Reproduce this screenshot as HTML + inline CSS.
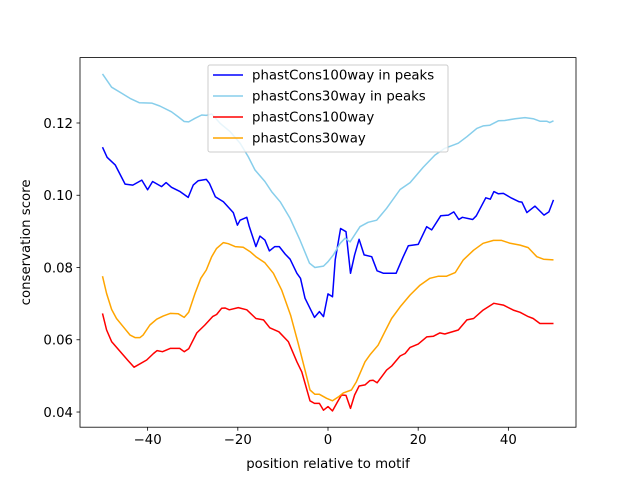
<!DOCTYPE html>
<html><head><meta charset="utf-8"><style>
body{margin:0;background:#fff;}
svg{display:block;font-family:"DejaVu Sans","Liberation Sans",sans-serif;}
</style></head><body>
<svg id="chart" width="640" height="480"></svg>
<script>
const xTicks=[-40,-20,0,20,40];
const yTicks=[0.04,0.06,0.08,0.10,0.12];
const yTickLabels=["0.04","0.06","0.08","0.10","0.12"];
const seriesNames=["phastCons100way in peaks","phastCons30way in peaks","phastCons100way","phastCons30way"];
const seriesColors=["#0000ff","#87ceeb","#ff0000","#ffa500"];
const blueX=[-50,-49,-47.2,-45,-43.3,-41.3,-40,-38.9,-36.9,-35.9,-34.7,-32.8,-31,-29.9,-28.8,-27,-26.3,-25,-23.2,-21,-20.1,-19.5,-18,-17.5,-16,-15.1,-14,-13,-11.8,-10.8,-9.5,-8.4,-6.9,-6.1,-5.1,-4,-3,-1.9,-1,0,0.4,1,1.6,2.8,4,5,5.9,6.9,8,9.7,10.9,12.3,15.1,16.6,17.8,20,21.9,23,25,26.7,27.9,29,29.8,32.1,32.9,35,36,36.8,37.8,38.9,40.7,42.4,43,44.1,45.9,47.9,49,50];
const blueY=[0.1133,0.1105,0.1084,0.1031,0.1028,0.1042,0.1015,0.1038,0.1024,0.1035,0.1022,0.101,0.0994,0.1028,0.104,0.1044,0.1033,0.0996,0.0982,0.0952,0.0917,0.0931,0.0939,0.0915,0.0858,0.0887,0.0876,0.0846,0.0858,0.0858,0.0837,0.0823,0.0784,0.077,0.0715,0.0687,0.0662,0.0678,0.0664,0.0727,0.0724,0.0719,0.0821,0.0908,0.0899,0.0784,0.0835,0.0878,0.0835,0.083,0.0791,0.0784,0.0784,0.0828,0.086,0.0864,0.0913,0.0904,0.0943,0.0945,0.0954,0.0933,0.0939,0.0933,0.0943,0.0993,0.0989,0.101,0.1004,0.1005,0.0992,0.0982,0.0981,0.0952,0.097,0.0945,0.0954,0.0987];
const skyX=[-50,-48,-45.7,-43.9,-41.8,-39.1,-37.3,-34.7,-33.2,-31.9,-30.9,-29.5,-28,-27,-25.8,-23.9,-21.7,-19.5,-17.7,-16.2,-14,-12.5,-10.6,-8.4,-6.2,-4.1,-2.9,-1,0,1.2,2.7,3.8,4.9,7.1,8.9,10.8,13,16,18.2,21.1,23.7,25.9,28.9,30.8,33,34.4,35.9,37.8,39.2,41.5,43.7,45.5,47,48.5,49.2,50];
const skyY=[0.1336,0.1299,0.1282,0.1268,0.1256,0.1255,0.1247,0.1231,0.1217,0.1204,0.1203,0.1213,0.1222,0.1221,0.1225,0.1199,0.1176,0.1144,0.1107,0.107,0.1038,0.101,0.0982,0.0936,0.0876,0.0812,0.08,0.0804,0.0816,0.0835,0.0867,0.0881,0.0871,0.0913,0.0925,0.0931,0.0964,0.1016,0.1035,0.1077,0.1111,0.113,0.1144,0.1162,0.1185,0.1192,0.1194,0.1206,0.1207,0.1212,0.1215,0.1212,0.1205,0.1205,0.1201,0.1206];
const redX=[-50,-49.1,-48,-45.7,-44.3,-43,-40.2,-38.7,-37.9,-36.7,-35,-32.9,-31.9,-30.9,-29.1,-27.3,-25.6,-24.7,-23.6,-22.8,-21.9,-19.9,-18,-16,-14.3,-12.9,-10.9,-8.8,-6.9,-5.8,-4,-3,-1.9,-1,0,1,2.1,3,4,5,5.9,6.9,8.2,9.3,10,10.9,13,14.1,16,17.1,18.2,20,21.9,23.4,24.8,25.9,28.9,30.8,32.3,34.4,36.8,38.9,41.1,42.6,44.4,45.5,47,50];
const redY=[0.0673,0.0627,0.0595,0.0562,0.0542,0.0524,0.0544,0.0562,0.057,0.0567,0.0576,0.0576,0.0567,0.0575,0.0619,0.0641,0.0664,0.067,0.0687,0.0688,0.0683,0.0689,0.0683,0.0659,0.0655,0.0633,0.0622,0.0595,0.0539,0.0511,0.0431,0.0424,0.0424,0.0405,0.0415,0.0403,0.0428,0.0447,0.0446,0.041,0.0447,0.0472,0.0475,0.0487,0.0488,0.0481,0.0516,0.0527,0.0555,0.0562,0.0579,0.0588,0.0608,0.061,0.0619,0.0616,0.0627,0.0655,0.0659,0.0682,0.0701,0.0696,0.0682,0.0676,0.0664,0.0659,0.0645,0.0645];
const orangeX=[-50,-49.1,-48,-46.9,-45.4,-43.9,-42.8,-41.7,-41,-39.5,-38,-36.5,-35,-33.2,-31.9,-30.9,-29.5,-28.2,-27,-25.8,-24.7,-23.2,-22.1,-20.6,-18.8,-17.3,-16,-14,-12.1,-10.3,-8.3,-6.6,-5.1,-4,-2.9,-1.9,-0.3,1,2.3,3.4,5.2,6.3,8.2,9.3,11.1,12.6,14.1,16,18.2,20.4,22.6,24.5,26.3,28.2,30,32.3,34.4,36.7,38.5,40.4,42.6,44.4,46.3,47.8,50];
const orangeY=[0.0776,0.0728,0.0684,0.0659,0.0636,0.0613,0.0606,0.0606,0.0613,0.0641,0.0657,0.0666,0.0673,0.0672,0.0662,0.0676,0.0728,0.077,0.0793,0.083,0.0853,0.0869,0.0866,0.0858,0.0856,0.0844,0.083,0.0813,0.0784,0.0738,0.0668,0.059,0.0516,0.0461,0.0449,0.0449,0.0438,0.0431,0.0442,0.0453,0.0461,0.0484,0.0539,0.0558,0.0585,0.0622,0.0659,0.0691,0.0724,0.0751,0.077,0.0776,0.0776,0.0786,0.0821,0.0848,0.0867,0.0875,0.0875,0.0867,0.0862,0.0855,0.083,0.0823,0.0821];

const NS="http://www.w3.org/2000/svg";
const svg=document.getElementById('chart');
const L=80,R=576,T=57.6,B=427.2;
const xMin=-55,xMax=55,yMin=0.0358,yMax=0.1381;
function sx(v){return L+(v-xMin)/(xMax-xMin)*(R-L);}
function sy(v){return B-(v-yMin)/(yMax-yMin)*(B-T);}
function mk(tag,attrs){const e=document.createElementNS(NS,tag);for(const k in attrs)e.setAttribute(k,attrs[k]);svg.appendChild(e);return e;}

const frame=mk('rect',{x:L,y:T,width:R-L,height:B-T,fill:'none',stroke:'#000','stroke-width':0.8});



xTicks.forEach(v=>{
  const x=sx(v);
  const t=mk('line',{x1:x,x2:x,y1:B,y2:B+3.5,stroke:'#000','stroke-width':0.8});
  
  
  const lb=mk('text',{x:x,y:B+17,'text-anchor':'middle','font-size':'13.3px',fill:'#000'});
  lb.textContent=(v<0?'\u2212'+Math.abs(v):String(v));
  
  
});
yTicks.forEach((v,i)=>{
  const y=sy(v);
  const t=mk('line',{x1:L-3.5,x2:L,y1:y,y2:y,stroke:'#000','stroke-width':0.8});
  
  
  const lb=mk('text',{x:L-7,y:y+4.8,'text-anchor':'end','font-size':'13.3px',fill:'#000'});
  lb.textContent=yTickLabels[i];
  
  
});
const xt=mk('text',{x:(L+R)/2,y:468,'text-anchor':'middle','font-size':'13.3px',fill:'#000'});
xt.textContent='position relative to motif';


const yt=mk('text',{x:0,y:0,'text-anchor':'middle','font-size':'13.3px',fill:'#000',transform:'translate(30,'+((T+B)/2)+') rotate(-90)'});
yt.textContent='conservation score';



const allX=[blueX,skyX,redX,orangeX],allY=[blueY,skyY,redY,orangeY];
const lineNames=['line-phastcons100way-peaks','line-phastcons30way-peaks','line-phastcons100way','line-phastcons30way'];
allX.forEach((xs,i)=>{
  const pts=xs.map((x,j)=>sx(x).toFixed(1)+','+sy(allY[i][j]).toFixed(1)).join(' ');
  const p=mk('polyline',{points:pts,fill:'none',stroke:seriesColors[i],'stroke-width':1.5,'stroke-linejoin':'round'});
  
  
});

const lg=mk('rect',{x:208,y:65,width:240,height:87,rx:2,fill:'#fff','fill-opacity':0.8,stroke:'#ccc','stroke-width':1});


seriesNames.forEach((n,i)=>{
  const y=75+i*21;
  const l=mk('line',{x1:213,x2:243,y1:y,y2:y,stroke:seriesColors[i],'stroke-width':1.5});
  
  
  const t=mk('text',{x:252,y:y+4.7,'font-size':'13.3px',fill:'#000'});
  t.textContent=n;
  
  
});
</script>
</body></html>
